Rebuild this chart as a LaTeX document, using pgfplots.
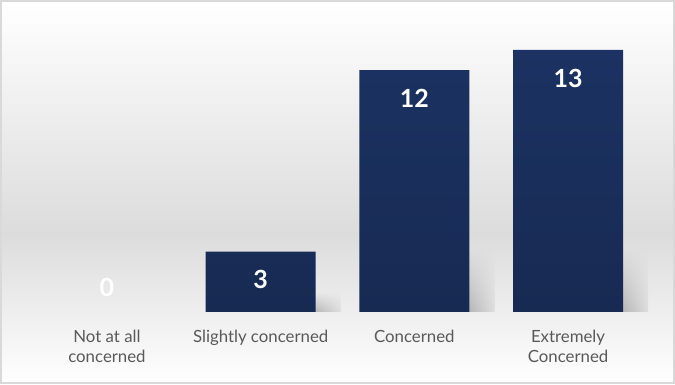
\documentclass[border=0pt]{standalone}
\usepackage{fontspec}
\setmainfont{Lato}
\usepackage{pgfplots}
\pgfplotsset{compat=1.18}
\usetikzlibrary{fadings}
\definecolor{barTop}{HTML}{1B3262}
\definecolor{barBot}{HTML}{172A52}
\definecolor{lbl}{HTML}{595959}
\definecolor{frameC}{HTML}{D9D9D9}
\definecolor{bgMid}{HTML}{DCDCDC}
\tikzfading[name=shadowfade, top color=transparent!100, middle color=transparent!0, bottom color=transparent!15]
\begin{document}
\begin{tikzpicture}[x=1pt,y=1pt]
\shade[top color=white, bottom color=bgMid] (0,150) rectangle (675,384);
\shade[top color=bgMid, bottom color=white] (0,0) rectangle (675,150.5);
\draw[frameC, line width=2pt] (1,1) rectangle (674,383);
\begin{axis}[
  at={(0,0)}, anchor=south west,
  scale only axis, width=675pt, height=384pt,
  xmin=-0.696, xmax=3.696, ymin=-3.573, ymax=15.48,
  axis x line=middle, axis y line=none,
  axis line style={draw=none},
  ytick=\empty,
  xtick={0,1,2,3},
  xticklabels={{Not at all\\concerned},{Slightly concerned},{Concerned},{Extremely\\Concerned}},
  major tick length=0pt,
  xticklabel style={align=center, text=lbl, font=\fontsize{16.8}{20}\selectfont, anchor=north, yshift=-15pt},
  /pgf/number format/assume math mode=true,
  clip=false,
]
% soft shadows to the right of bars
\addplot[ybar, bar width=30pt, bar shift=65pt, draw=none, left color=black!36, right color=black!14, path fading=shadowfade]
  coordinates {(1,1.0)};
\addplot[ybar, bar width=30pt, bar shift=65pt, draw=none, left color=black!36, right color=black!14, path fading=shadowfade]
  coordinates {(2,3.2)};
\addplot[ybar, bar width=30pt, bar shift=65pt, draw=none, left color=black!36, right color=black!14, path fading=shadowfade]
  coordinates {(3,3.2)};
% main bars
\addplot[ybar, bar width=110pt, bar shift=0pt, draw=none, top color=barTop, bottom color=barBot,
  nodes near coords,
  every node near coord/.append style={text=white, font=\bfseries\fontsize{25}{25}\selectfont, anchor=center, yshift=-28pt}]
  coordinates {(1,3) (2,12) (3,13)};
% zero bar (label only)
\addplot[ybar, bar width=110pt, bar shift=0pt, draw=none, fill=none,
  nodes near coords,
  every node near coord/.append style={text=white, font=\bfseries\fontsize{25}{25}\selectfont, anchor=center, yshift=25pt}]
  coordinates {(0,0)};
\end{axis}
\pgfresetboundingbox
\path[use as bounding box] (0,0) rectangle (675,384);
\end{tikzpicture}
\end{document}
